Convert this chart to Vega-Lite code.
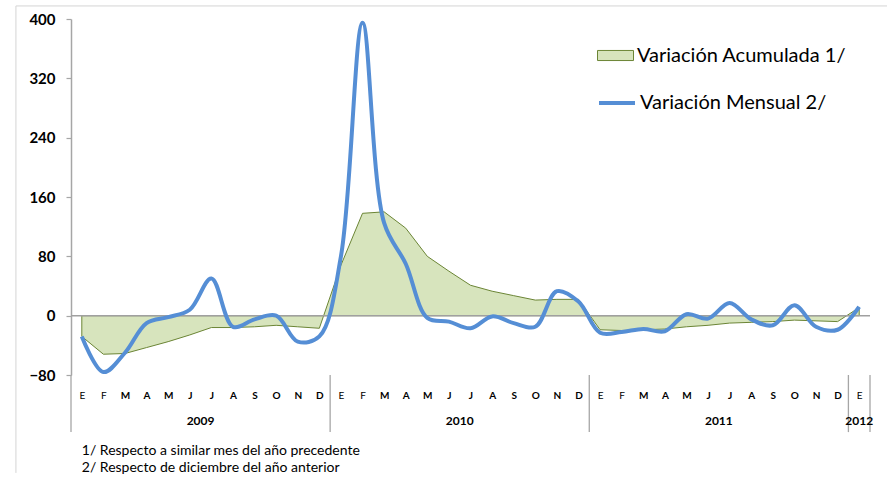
{
  "$schema": "https://vega.github.io/schema/vega-lite/v6.json",
  "width": 799,
  "height": 356,
  "autosize": {"type": "none"},
  "padding": {"left": 71, "top": 19, "right": 17, "bottom": 111},
  "background": "white",
  "config": {"view": {"stroke": null}, "font": "Lato", "axis": {"labelOverlap": false}},
  "datasets": {
    "series": [
      {"i": 0, "year": "2009", "acum": -28, "mens": -28},
      {"i": 1, "year": "2009", "acum": -52, "mens": -76},
      {"i": 2, "year": "2009", "acum": -51, "mens": -50},
      {"i": 3, "year": "2009", "acum": -43, "mens": -10},
      {"i": 4, "year": "2009", "acum": -35, "mens": -2},
      {"i": 5, "year": "2009", "acum": -26, "mens": 8},
      {"i": 6, "year": "2009", "acum": -16, "mens": 50},
      {"i": 7, "year": "2009", "acum": -16, "mens": -15},
      {"i": 8, "year": "2009", "acum": -15, "mens": -5},
      {"i": 9, "year": "2009", "acum": -13, "mens": 0},
      {"i": 10, "year": "2009", "acum": -15, "mens": -35},
      {"i": 11, "year": "2009", "acum": -17, "mens": -28},
      {"i": 12, "year": "2010", "acum": 68, "mens": 80},
      {"i": 13, "year": "2010", "acum": 138, "mens": 395},
      {"i": 14, "year": "2010", "acum": 140, "mens": 125},
      {"i": 15, "year": "2010", "acum": 118, "mens": 70},
      {"i": 16, "year": "2010", "acum": 80, "mens": -3},
      {"i": 17, "year": "2010", "acum": 60, "mens": -8},
      {"i": 18, "year": "2010", "acum": 41, "mens": -17},
      {"i": 19, "year": "2010", "acum": 33, "mens": -1},
      {"i": 20, "year": "2010", "acum": 27, "mens": -10},
      {"i": 21, "year": "2010", "acum": 21, "mens": -15},
      {"i": 22, "year": "2010", "acum": 22, "mens": 33},
      {"i": 23, "year": "2010", "acum": 22, "mens": 19},
      {"i": 24, "year": "2011", "acum": -19, "mens": -23},
      {"i": 25, "year": "2011", "acum": -20, "mens": -22},
      {"i": 26, "year": "2011", "acum": -19, "mens": -18},
      {"i": 27, "year": "2011", "acum": -18, "mens": -21},
      {"i": 28, "year": "2011", "acum": -15, "mens": 2},
      {"i": 29, "year": "2011", "acum": -13, "mens": -4},
      {"i": 30, "year": "2011", "acum": -10, "mens": 17},
      {"i": 31, "year": "2011", "acum": -9, "mens": -5},
      {"i": 32, "year": "2011", "acum": -8, "mens": -13},
      {"i": 33, "year": "2011", "acum": -6, "mens": 14},
      {"i": 34, "year": "2011", "acum": -7, "mens": -15},
      {"i": 35, "year": "2011", "acum": -8, "mens": -19},
      {"i": 36, "year": "2012", "acum": 11, "mens": 12}
    ],
    "one": [{}]
  },
  "data": {"name": "series"},
  "layer": [
    {
      "data": {"name": "one"},
      "mark": {"type": "rule", "color": "#d4d4d4", "strokeWidth": 1},
      "encoding": {"x": {"datum": -3.05, "type": "quantitative"}, "y": {"datum": 417.6, "type": "quantitative"}, "y2": {"datum": -212}}
    },
    {
      "data": {"name": "one"},
      "mark": {"type": "rule", "color": "#d4d4d4", "strokeWidth": 1},
      "encoding": {"x": {"datum": -3.05, "type": "quantitative"}, "x2": {"datum": 40}, "y": {"datum": 417.6, "type": "quantitative"}}
    },
    {
      "mark": {"type": "area", "stroke": "#6b8535", "strokeWidth": 1, "interpolate": "linear"},
      "encoding": {
        "x": {
          "field": "i", "type": "quantitative",
          "scale": {"domain": [-0.5, 36.5], "nice": false, "zero": false},
          "axis": {
            "values": [0,1,2,3,4,5,6,7,8,9,10,11,12,13,14,15,16,17,18,19,20,21,22,23,24,25,26,27,28,29,30,31,32,33,34,35,36],
            "tickCount": 37,
            "labelExpr": "['E','F','M','A','M','J','J','A','S','O','N','D'][datum.value % 12]",
            "title": null, "grid": false, "domain": false, "ticks": false, "tickSize": 0,
            "labelPadding": 20, "labelBaseline": "middle", "labelFont": "Lato", "labelFontSize": 10,
            "labelColor": "#000000",
            "labelFontWeight": {"condition": {"test": "datum.value % 12 < 2", "value": "normal"}, "value": "bold"},
            "labelOverlap": false, "labelFlush": false, "labelSeparation": 0
          }
        },
        "y": {
          "field": "acum", "type": "quantitative",
          "scale": {"domain": [-80, 400], "nice": false, "zero": false},
          "axis": {
            "values": [-80, 0, 80, 160, 240, 320, 400],
            "title": null, "grid": false, "domainColor": "#a6a6a6", "domainWidth": 1.5,
            "tickColor": "#a6a6a6", "tickSize": 5, "tickWidth": 1.2,
            "labelPadding": 11, "labelFont": "Lato", "labelFontSize": 15, "labelFontWeight": "bold",
            "labelColor": "#000000"
          }
        },
        "y2": {"datum": 0},
        "fill": {
          "datum": "Variación Acumulada 1/",
          "scale": {"range": ["#d7e4bd"]},
          "legend": {
            "orient": "none", "legendX": 526, "legendY": 18, "title": null, "padding": 0,
            "symbolType": "M-1,-0.28H1V0.28H-1Z", "symbolSize": 1296,
            "symbolStrokeColor": "#6b8535", "symbolStrokeWidth": 1, "symbolOpacity": 1,
            "labelFont": "Lato", "labelFontSize": 20, "labelColor": "#000000", "labelOffset": 3, "labelLimit": 400
          }
        }
      }
    },
    {
      "data": {"name": "one"},
      "mark": {"type": "rule", "color": "#a0a0a0", "strokeWidth": 1.5},
      "encoding": {"y": {"datum": 0, "type": "quantitative"}}
    },
    {
      "transform": [{"filter": "datum.i % 12 == 0"}, {"calculate": "datum.i - 0.5", "as": "b"}],
      "mark": {"type": "rule", "color": "#a6a6a6", "strokeWidth": 1.3},
      "encoding": {"x": {"field": "b", "type": "quantitative"}, "y": {"datum": -80, "type": "quantitative"}, "y2": {"datum": -157}}
    },
    {
      "data": {"name": "one"},
      "mark": {"type": "rule", "color": "#a6a6a6", "strokeWidth": 1.3},
      "encoding": {"x": {"datum": 36.5, "type": "quantitative"}, "y": {"datum": -80, "type": "quantitative"}, "y2": {"datum": -157}}
    },
    {
      "mark": {"type": "line", "strokeWidth": 4, "interpolate": "catmull-rom"},
      "encoding": {
        "x": {"field": "i", "type": "quantitative"},
        "y": {"field": "mens", "type": "quantitative"},
        "stroke": {
          "datum": "Variación Mensual 2/",
          "scale": {"range": ["#558ed5"]},
          "legend": {
            "orient": "none", "legendX": 526, "legendY": 64, "title": null, "padding": 0,
            "symbolType": "M-1,0H1", "symbolSize": 1296, "symbolStrokeWidth": 4,
            "labelFont": "Lato", "labelFontSize": 20, "labelColor": "#000000", "labelOffset": 3, "labelLimit": 400
          }
        }
      }
    },
    {
      "transform": [{"aggregate": [{"op": "mean", "field": "i", "as": "mid"}], "groupby": ["year"]}],
      "mark": {"type": "text", "font": "Lato", "fontSize": 12, "fontWeight": "bold", "baseline": "middle", "align": "center", "dy": 46, "color": "#000000"},
      "encoding": {"x": {"field": "mid", "type": "quantitative"}, "y": {"datum": -80, "type": "quantitative"}, "text": {"field": "year"}}
    },
    {
      "data": {"name": "one"},
      "mark": {"type": "text", "font": "Lato", "fontSize": 14, "baseline": "top", "align": "left", "dy": 69, "lineHeight": 17, "color": "#000000"},
      "encoding": {
        "x": {"datum": 0, "type": "quantitative"},
        "y": {"datum": -80, "type": "quantitative"},
        "text": {"value": ["1/ Respecto a similar mes del año precedente", "2/ Respecto de diciembre del año anterior"]}
      }
    }
  ]
}
